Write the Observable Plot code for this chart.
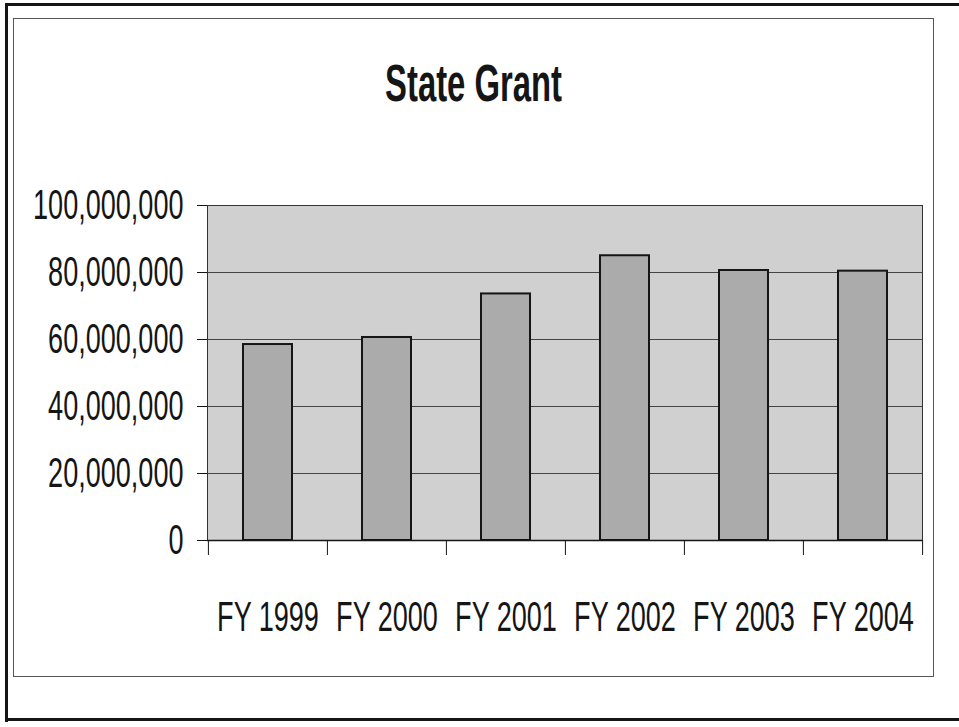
<!DOCTYPE html>
<html><head><meta charset="utf-8">
<script src="https://cdn.jsdelivr.net/npm/d3@7"></script>
<script src="https://cdn.jsdelivr.net/npm/@observablehq/plot@0.6"></script>
<style>
body{margin:0;background:#fff;}
#wrap{position:relative;width:959px;height:727px;overflow:hidden;background:#fff;}
.ln{position:absolute;background:#151515;}
#inner{position:absolute;left:13px;top:18px;width:919px;height:657px;border:1px solid #555;}
#title{position:absolute;left:0;top:63px;width:947px;text-align:center;font:bold 40px/40px "Liberation Sans",Arial,sans-serif;transform:scale(0.82,1.3);color:#151515;margin:0}
#chart{position:absolute;left:0;top:0;}
</style></head>
<body><div id="wrap">
<div class="ln" style="left:5px;top:3px;width:954px;height:3px"></div>
<div class="ln" style="left:5px;top:3px;width:3px;height:719px"></div>
<div class="ln" style="left:5px;top:718px;width:954px;height:3px"></div>
<div id="inner"></div>
<div id="title">State Grant</div>
<div id="chart"></div>
</div>
<script>
const categories = ["FY 1999", "FY 2000", "FY 2001", "FY 2002", "FY 2003", "FY 2004"];
const grants = [58500000, 60600000, 73600000, 85000000, 80600000, 80400000];
const yTicks = [0, 20000000, 40000000, 60000000, 80000000, 100000000];

const data = categories.map((c, i) => ({year: c, grant: grants[i]}));

const W = 959, H = 727, mL = 207, mR = 37, mT = 205, mB = 187;
const bw = (W - mL - mR) / categories.length;
const font = '"Liberation Sans",Arial,sans-serif';

const chart = Plot.plot({
  width: W, height: H,
  marginLeft: mL, marginRight: mR, marginTop: mT, marginBottom: mB,
  style: {background: "transparent", fontFamily: font, fontSize: "33px", color: "#151515", overflow: "visible"},
  x: {domain: categories, padding: 0, axis: null},
  y: {domain: [0, 100000000], axis: null},
  marks: [
    Plot.frame({fill: "#d0d0d0"}),
    Plot.ruleY(yTicks.slice(1), {stroke: "#444", strokeWidth: 1}),
    Plot.barY(data, {x: "year", y: "grant", fill: "#ababab", stroke: "#151515", strokeWidth: 2, insetLeft: 35, insetRight: 35}),
    Plot.frame({stroke: "#333", strokeWidth: 1}),
    Plot.ruleY([0], {stroke: "#151515", strokeWidth: 1.5}),
    Plot.axisY({ticks: yTicks, tickSize: 10, tickPadding: 14, tickFormat: d3.format(","), label: null, stroke: "#151515", fontSize: 33}),
    Plot.axisX({tickSize: 15, dx: -bw / 2, tickFormat: () => "", label: null, stroke: "#151515"}),
    Plot.axisX({ticks: [categories[categories.length - 1]], tickSize: 15, dx: bw / 2, tickFormat: () => "", label: null, stroke: "#151515"}),
    Plot.axisX({tickSize: 0, tickPadding: 60, label: null, fontSize: 33})
  ]
});

// narrow and stretch the text like the scanned Arial Narrow original
const S = " scale(0.82,1.3)";
chart.querySelectorAll("text").forEach(t => {
  const tr = t.getAttribute("transform");
  if (tr) {
    t.setAttribute("transform", tr + S);
  } else {
    const xs = t.getAttribute("x"), ys = t.getAttribute("y");
    const x = xs && !/em/.test(xs) ? parseFloat(xs) : 0;
    const y = ys && !/em/.test(ys) ? parseFloat(ys) : 0;
    if (xs && !/em/.test(xs)) t.removeAttribute("x");
    if (ys && !/em/.test(ys)) t.removeAttribute("y");
    t.setAttribute("transform", `translate(${x},${y})` + S);
  }
});

document.getElementById("chart").appendChild(chart);
</script>
</body></html>
